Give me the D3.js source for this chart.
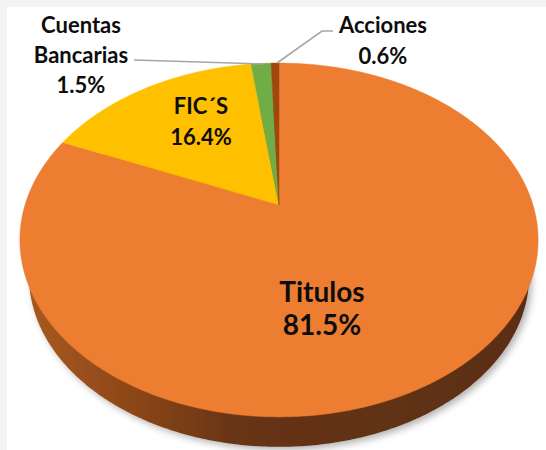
<!DOCTYPE html>
<html><head><meta charset="utf-8">
<script src="https://cdn.jsdelivr.net/npm/d3@7/dist/d3.min.js"></script>
<style>html,body{margin:0;padding:0;background:#fff}svg{display:block}</style>
</head><body>
<svg id="c" width="546" height="450"></svg>
<script>
// ---- data ----
const categories = ["Titulos", "FIC´S", "Cuentas Bancarias", "Acciones"];
const values = [81.5, 16.4, 1.5, 0.6];
const valueLabels = ["81.5%", "16.4%", "1.5%", "0.6%"];
const labelLines = [["Titulos", "81.5%"], ["FIC´S", "16.4%"], ["Cuentas", "Bancarias", "1.5%"], ["Acciones", "0.6%"]];
const colors = ["#ED7D31", "#FFC000", "#70AD47", "#9E480E"];

// ---- layout ----
const W = 546, H = 450;
const cx = 279, cy = 205, A = 254, B = 170, k = 0.1977;
const botScale = 0.965, botShift = 37.4;
const labelPos = [
  {x: 322, y: 302, lh: 33, fs: 28},
  {x: 201, y: 114, lh: 31, fs: 22},
  {x: 81,  y: 33,  lh: 30, fs: 22},
  {x: 383, y: 33,  lh: 31, fs: 22}
];
const leaders = [
  null, null,
  [[134, 60], [263, 64]],
  [[333, 31], [322, 31], [277, 63]]
];

const svg = d3.select("#c");
svg.append("rect").attr("width", W).attr("height", H).attr("fill", "#f3f4f3");
svg.append("rect").attr("x", 7).attr("y", 7).attr("width", W - 7).attr("height", H - 7).attr("fill", "#fff");

const defs = svg.append("defs");
const grad = defs.append("linearGradient").attr("id", "side")
  .attr("gradientUnits", "userSpaceOnUse").attr("x1", 20).attr("x2", 535).attr("y1", 0).attr("y2", 0);
[[0, "#ab5a20"], [0.2, "#8f4819"], [0.42, "#673417"], [1, "#5a2e12"]].forEach(s =>
  grad.append("stop").attr("offset", s[0]).attr("stop-color", s[1]));
const f = defs.append("filter").attr("id", "sh").attr("x", "-10%").attr("y", "-10%").attr("width", "130%").attr("height", "140%");
f.append("feDropShadow").attr("dx", 3).attr("dy", 3).attr("stdDeviation", 3.5).attr("flood-color", "#000").attr("flood-opacity", 0.3);

// perspective projection of the unit disk (s: scale, dy: shift for the bottom face)
function proj(theta, s, dy) {
  const u = Math.sin(theta), v = -Math.cos(theta);
  const w = 1 - k * v;
  return [cx + s * A * u / w, cy + dy + s * B * v / w];
}
function arcPts(a0, a1, s, dy) {
  const n = Math.max(2, Math.ceil((a1 - a0) / 0.01));
  return d3.range(n + 1).map(i => proj(a0 + (a1 - a0) * i / n, s, dy));
}
const line = d3.line();

const pie = d3.pie().sort(null).value(d => d)(values);

// bottom face (visible as the side wall below the top face)
svg.append("g").attr("filter", "url(#sh)").append("path")
  .attr("d", line(arcPts(0, 2 * Math.PI, botScale, botShift)) + "Z")
  .attr("fill", "url(#side)");

// top slices
svg.append("g").selectAll("path").data(pie).join("path")
  .attr("d", d => line([[cx, cy], ...arcPts(d.startAngle, d.endAngle, 1, 0)]) + "Z")
  .attr("fill", (d, i) => colors[i])
  .attr("stroke", (d, i) => colors[i]).attr("stroke-width", 0.5);

// leader lines
leaders.forEach(l => {
  if (!l) return;
  svg.append("path").attr("d", line(l)).attr("fill", "none")
    .attr("stroke", "#a6a6a6").attr("stroke-width", 1.6);
});

// labels
const font = "Lato, 'Open Sans', sans-serif";
labelLines.forEach((lines, i) => {
  const p = labelPos[i];
  const t = svg.append("text").attr("text-anchor", "middle")
    .attr("font-family", font).attr("font-weight", 700)
    .attr("font-size", p.fs).attr("fill", "#0d0d0d");
  lines.forEach((s, j) => t.append("tspan").attr("x", p.x).attr("y", p.y + j * p.lh).text(s));
});
</script>
</body></html>
